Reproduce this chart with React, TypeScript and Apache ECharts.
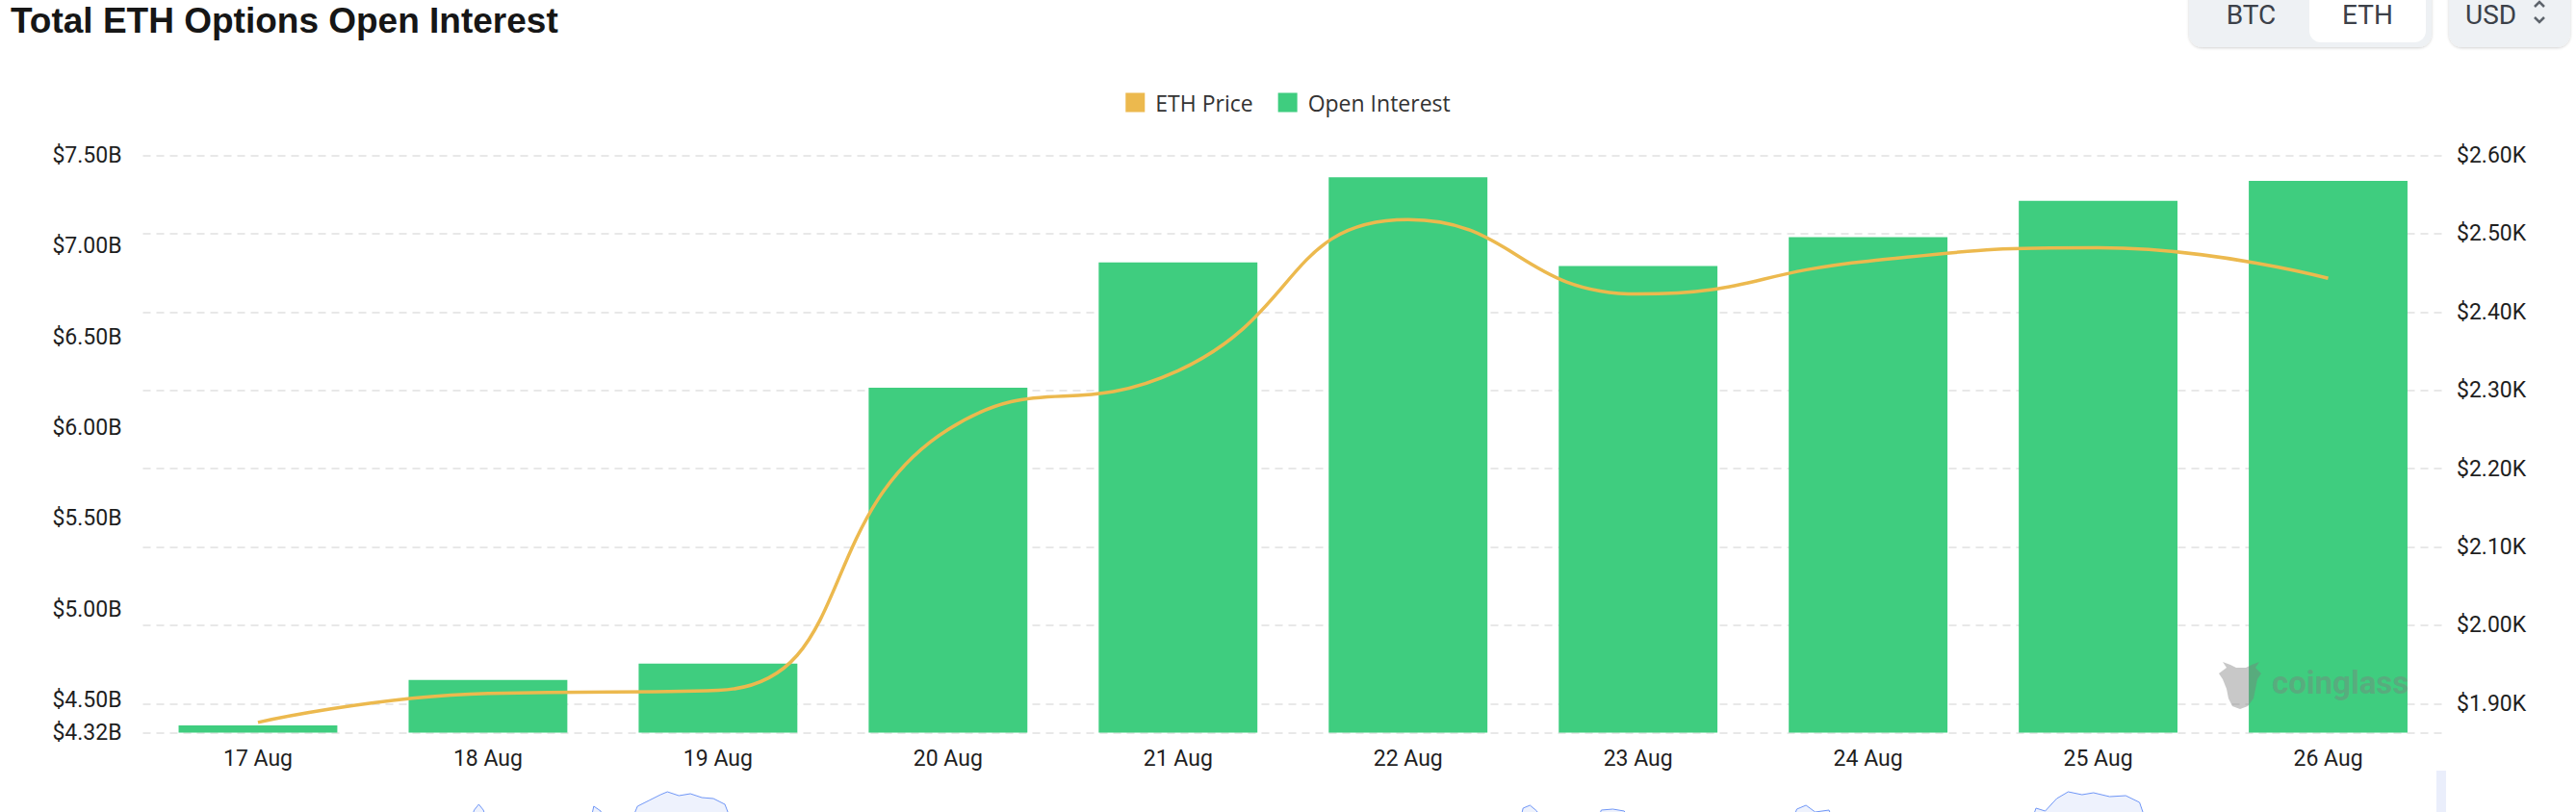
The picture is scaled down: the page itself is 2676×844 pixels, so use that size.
import React, { useEffect, useRef } from "react";
import * as echarts from "echarts";

const categories = ["17 Aug", "18 Aug", "19 Aug", "20 Aug", "21 Aug", "22 Aug", "23 Aug", "24 Aug", "25 Aug", "26 Aug"];
// Open interest in billions USD
const openInterest = [4.36, 4.61, 4.70, 6.22, 6.91, 7.38, 6.89, 7.05, 7.25, 7.36];
// ETH price in USD
const ethPrice = [1876, 1913, 1917, 2250, 2325, 2518, 2423, 2465, 2482, 2443];

const leftTicks = [4.32, 4.5, 5, 5.5, 6, 6.5, 7, 7.5];
const leftMin = 4.32;
const leftMax = 7.5;
const rightLabelTicks = [1900, 2000, 2100, 2200, 2300, 2400, 2500, 2600];
const rightMin = 1863;
const rightMax = 2600;
const rightLineTicks = [1863, 1900, 2000, 2100, 2200, 2300, 2400, 2500, 2600];

// slider data-shadow peaks visible at the bottom edge: [position % along slider, relative level]
const shadowPoints: [number, number][] = [
  [0, 30], [14, 30], [14.4, 58], [14.6, 64], [14.8, 58], [15.2, 30],
  [19.3, 30], [19.6, 62], [19.9, 57], [20.2, 30],
  [21.2, 45], [21.5, 62], [22.0, 68], [22.5, 74], [22.8, 77], [23.3, 73], [23.8, 75], [24.3, 71], [24.8, 70], [25.3, 64], [25.6, 45], [26, 30],
  [59.7, 30], [60.0, 60], [60.3, 63], [60.6, 57], [61, 30],
  [63.1, 40], [63.4, 58], [63.9, 59], [64.4, 57], [64.7, 40],
  [71.6, 40], [71.9, 59], [72.3, 63], [72.7, 56], [73.3, 58], [73.6, 40],
  [82, 40], [82.3, 60], [82.7, 57], [83.2, 70], [83.7, 77], [84.3, 74], [84.8, 76], [85.5, 72], [86.2, 73], [86.8, 66], [87.1, 45], [87.5, 30],
  [100, 30],
];

const GREEN = "#3FCD7F";
const ORANGE = "#ECB94E";

echarts.graphic.registerShape(
  "bullLogo",
  echarts.graphic.extendPath(
    "M8 8 L4 2 L12 5 L18 8 L28 8 L34 5 L42 2 L38 8 L44 14 L40 20 L38 30 L36 40 L30 48 L22 51 L14 48 L10 40 L8 30 L4 20 L0 14 Z",
    {}
  ) as any
);

export default function App() {
  const ref = useRef<HTMLDivElement>(null);
  useEffect(() => {
    document.body.style.margin = "0";
    if (!ref.current) return;
    const chart = echarts.init(ref.current, null, { renderer: "svg" });
    const axisFont = { fontFamily: "Roboto", fontSize: 23, color: "#1f1f1f" };
    const btnText = (text: string, x: number, align: string) => ({
      type: "text",
      x,
      y: 15,
      style: {
        text,
        fontFamily: "Roboto",
        fontSize: 28,
        fill: "#3C4149",
        align,
        verticalAlign: "middle",
        textAlign: align,
        textVerticalAlign: "middle",
      },
    });
    const option: any = {
      animation: false,
      backgroundColor: "#ffffff",
      legend: {
        data: ["ETH Price", "Open Interest"],
        top: 90,
        left: "center",
        itemWidth: 20,
        itemHeight: 20,
        itemGap: 26,
        icon: "rect",
        textStyle: { fontFamily: "Open Sans", fontSize: 23, color: "#333333", padding: [0, 0, 0, 6] },
      },
      tooltip: { show: false },
      grid: [
        { left: 148.5, right: 138, top: 161.5, bottom: 82.5, containLabel: false, outerBoundsMode: "none" },
        { left: 148.5, right: 138, top: 800, height: 100, containLabel: false, outerBoundsMode: "none" },
      ],
      xAxis: [
        {
          type: "category",
          data: categories,
          gridIndex: 0,
          boundaryGap: true,
          axisLine: { show: false },
          axisTick: { show: false },
          axisLabel: { ...axisFont, margin: 15 },
          splitLine: { show: false },
        },
        { type: "value", gridIndex: 1, min: 0, max: 100, show: false },
      ],
      yAxis: [
        {
          type: "value",
          gridIndex: 0,
          position: "left",
          min: leftMin,
          max: leftMax,
          axisLine: { show: false },
          axisTick: { show: false },
          splitLine: { show: false },
          axisLabel: {
            ...axisFont,
            margin: 22,
            customValues: leftTicks,
            formatter: (v: number) => "$" + v.toFixed(2) + "B",
          },
        },
        {
          type: "value",
          gridIndex: 0,
          position: "right",
          min: rightMin,
          max: rightMax,
          axisLine: { show: false },
          axisTick: { show: false, customValues: rightLineTicks },
          splitLine: { show: true, lineStyle: { color: "#E8E8E8", width: 2, type: [8, 6] } },
          axisLabel: {
            ...axisFont,
            margin: 14,
            customValues: rightLabelTicks,
            formatter: (v: number) => "$" + (v / 1000).toFixed(2) + "K",
          },
        },
        { type: "value", gridIndex: 1, min: 0, max: 100, show: false },
      ],
      series: [
        {
          name: "Open Interest",
          type: "bar",
          xAxisIndex: 0,
          yAxisIndex: 0,
          data: openInterest,
          barWidth: "69%",
          itemStyle: { color: GREEN },
          z: 2,
        },
        {
          name: "ETH Price",
          type: "line",
          xAxisIndex: 0,
          yAxisIndex: 1,
          data: ethPrice,
          smooth: true,
          showSymbol: false,
          symbol: "none",
          lineStyle: { color: ORANGE, width: 3.5 },
          itemStyle: { color: ORANGE },
          z: 4,
        },
        {
          name: "shadow",
          type: "line",
          xAxisIndex: 1,
          yAxisIndex: 2,
          data: shadowPoints,
          showSymbol: false,
          symbol: "none",
          silent: true,
          lineStyle: { color: "#6F96F6", width: 1 },
          areaStyle: { color: "#E7EDFC" },
          z: 1,
        },
      ],
      graphic: [
        {
          type: "text",
          x: 11,
          y: 21,
          style: {
            text: "Total ETH Options Open Interest",
            fontFamily: "Liberation Sans",
            fontWeight: "bold",
            fontSize: 37,
            fill: "#161616",
            align: "left",
            verticalAlign: "middle",
            textAlign: "left",
            textVerticalAlign: "middle",
          },
        },
        // BTC / ETH switch
        {
          type: "rect",
          shape: { x: 2274, y: -20, width: 252, height: 69, r: 14 },
          style: { fill: "#EEF1F4", shadowBlur: 3, shadowOffsetY: 1, shadowColor: "rgba(0,0,0,0.18)" },
        },
        {
          type: "rect",
          shape: { x: 2399, y: -20, width: 121, height: 64, r: 12 },
          style: { fill: "#ffffff" },
        },
        btnText("BTC", 2338.5, "center"),
        btnText("ETH", 2459.5, "center"),
        // USD select
        {
          type: "rect",
          shape: { x: 2544, y: -20, width: 126, height: 69, r: 14 },
          style: { fill: "#EEF1F4", shadowBlur: 3, shadowOffsetY: 1, shadowColor: "rgba(0,0,0,0.18)" },
        },
        btnText("USD", 2561, "left"),
        {
          type: "polyline",
          shape: { points: [[2633, 7], [2638, 2], [2643, 7]] },
          style: { stroke: "#5E646C", lineWidth: 2.5, fill: "none" },
        },
        {
          type: "polyline",
          shape: { points: [[2633, 18], [2638, 23], [2643, 18]] },
          style: { stroke: "#5E646C", lineWidth: 2.5, fill: "none" },
        },
        // watermark
        {
          type: "bullLogo",
          x: 2305,
          y: 686,
          scaleX: 1,
          scaleY: 1,
          z: 10,
          style: { fill: "rgba(125,125,125,0.42)" },
        },
        {
          type: "text",
          x: 2360,
          y: 709,
          z: 10,
          style: {
            text: "coinglass",
            fontFamily: "Roboto",
            fontWeight: "bold",
            fontSize: 33,
            fill: "rgba(125,125,125,0.42)",
            align: "left",
            verticalAlign: "middle",
            textAlign: "left",
            textVerticalAlign: "middle",
          },
        },
        // slider handle edge
        {
          type: "rect",
          shape: { x: 2531, y: 801, width: 10, height: 60 },
          style: { fill: "#EAEEFB" },
        },
      ],
    };
    chart.setOption(option);
    return () => chart.dispose();
  }, []);
  return (
    <div
      ref={ref}
      style={{ position: "relative", width: 2676, height: 844, background: "#fff" }}
    />
  );
}
